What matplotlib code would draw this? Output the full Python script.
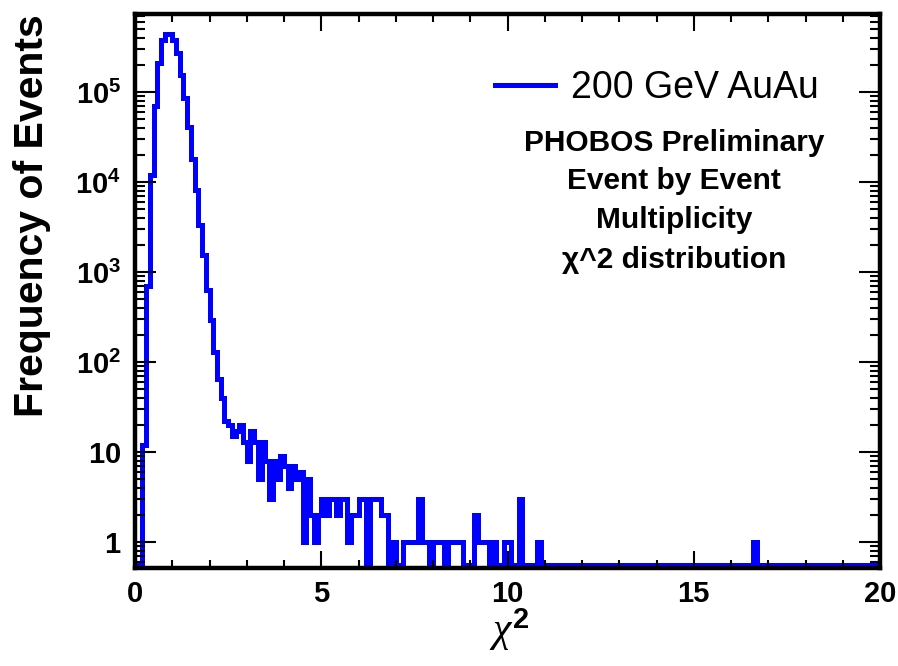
import matplotlib
matplotlib.use("Agg")
import matplotlib.pyplot as plt
import numpy as np

plt.rcParams["font.family"] = ["Liberation Sans", "DejaVu Sans"]
plt.rcParams["mathtext.fontset"] = "custom"
plt.rcParams["mathtext.rm"] = "Liberation Sans"
plt.rcParams["mathtext.bf"] = "Liberation Sans:bold"
plt.rcParams["mathtext.it"] = "Liberation Serif:italic"

# chi^2 histogram: 200 bins of width 0.1 between 0 and 20
bin_edges = np.linspace(0, 20, 201)

# bins 0.0 - 4.9
counts_core = [0, 0, 12, 700, 12000, 69000, 208000, 380000, 440000, 440000,
               380000, 270000, 155000, 85000, 41000, 18000, 8100, 3300, 1550, 630,
               290, 130, 65, 40, 22, 20, 15, 17, 20, 13,
               8, 17, 13, 5, 13, 8, 3, 8, 5, 9,
               7, 4, 7, 5, 6, 1, 5, 2, 1, 2]
# bins 5.0 - 10.9
counts_tail = [3, 2, 3, 3, 2, 3, 3, 1, 2, 2,
               3, 3, 0, 3, 3, 3, 2, 2, 0, 1,
               0, 0, 1, 1, 1, 1, 3, 1, 1, 0,
               1, 1, 1, 0, 1, 1, 1, 1, 0, 0,
               0, 2, 1, 1, 1, 0, 1, 0, 0, 1,
               1, 0, 0, 3, 0, 0, 0, 0, 1, 0]
# lone event far out
outlier_chi2 = 16.6
outlier_count = 1

counts = np.zeros(200)
counts[:50] = counts_core
counts[50:110] = counts_tail
counts[int(round(outlier_chi2 * 10))] = outlier_count

y_min, y_max = 0.514, 7.45e5
zero_level = 0.55  # empty bins drawn along the bottom of the frame

y_ticks = [1, 10, 100, 1000, 1e4, 1e5]
y_ticklabels = [r"$\mathbf{1}$", r"$\mathbf{10}$", r"$\mathbf{10^{2}}$",
                r"$\mathbf{10^{3}}$", r"$\mathbf{10^{4}}$", r"$\mathbf{10^{5}}$"]
x_ticks = [0, 5, 10, 15, 20]

legend_label = "200 GeV AuAu"
info_lines = ["PHOBOS Preliminary", "Event by Event", "Multiplicity",
              "\u03c7^2 distribution"]
info_baselines = [151, 189, 228, 268]  # pixel rows

W, H = 898, 666
fig = plt.figure(figsize=(W / 100, H / 100), dpi=100)
ax = fig.add_axes([135 / W, 1 - 568 / H, (880 - 135) / W, (568 - 13.5) / H])

plot_vals = np.where(counts > 0, counts, zero_level)
ax.stairs(plot_vals, bin_edges, baseline=None, color="#0000ff",
          linewidth=3.6, label=legend_label)

ax.set_yscale("log")
ax.set_xlim(0, 20)
ax.set_ylim(y_min, y_max)

ax.set_xticks(x_ticks)
ax.set_xticklabels([str(t) for t in x_ticks])
ax.set_xticks(np.arange(0, 21, 1), minor=True)
ax.set_yticks(y_ticks)
ax.set_yticklabels(y_ticklabels)

for s in ax.spines.values():
    s.set_linewidth(3.2)

ax.tick_params(axis="both", which="both", direction="in", top=True, right=True,
               width=1.5, labelsize=21)
ax.tick_params(axis="x", which="major", length=12, pad=9)
ax.tick_params(axis="x", which="minor", length=6)
ax.tick_params(axis="y", which="major", length=15, pad=10)
ax.tick_params(axis="y", which="minor", length=7)
for lab in ax.get_xticklabels():
    lab.set_fontweight("bold")

fig.text(32 / W, 1 - 14 / H, "Frequency of Events", rotation=90,
         ha="center", va="top", fontsize=29.5, fontweight="bold")
fig.text(509 / W, 1 - 630 / H, r"$\chi^{\mathbf{2}}$", ha="center",
         va="center", fontsize=30)

ax.legend(loc="center left", bbox_to_anchor=(495 / W, 1 - 88 / H),
          bbox_transform=fig.transFigure, frameon=False, fontsize=27,
          handlelength=1.6, handletextpad=0.42, borderpad=0,
          borderaxespad=0)

for line, yb in zip(info_lines, info_baselines):
    fig.text(674 / W, 1 - yb / H, line, ha="center", va="baseline",
             fontsize=21.5, fontweight="bold")

fig.savefig("out.png", dpi=100)
